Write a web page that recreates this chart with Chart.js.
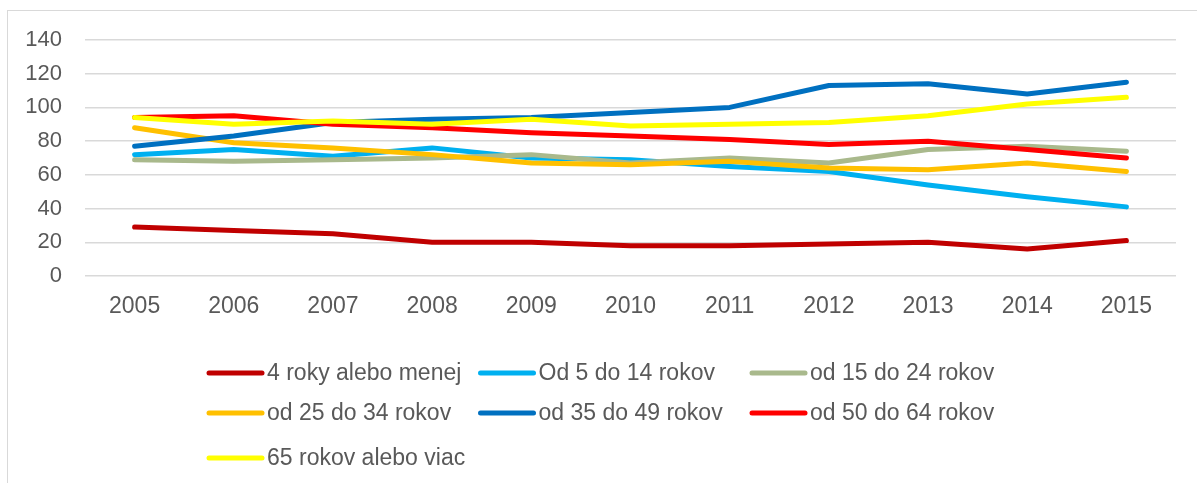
<!DOCTYPE html>
<html>
<head>
<meta charset="utf-8">
<script src="https://cdn.jsdelivr.net/npm/chart.js@4.4.1/dist/chart.umd.min.js"></script>
<style>
  html, body { margin: 0; padding: 0; background: #fff; overflow: hidden; }
  #wrap { position: relative; width: 1197px; height: 483px; overflow: hidden; }
  #frame { position: absolute; left: 7px; top: 10px; width: 1400px; height: 700px; border: 1px solid #d9d9d9; box-sizing: border-box; }
  canvas { position: absolute; left: 0; top: 0; }
</style>
</head>
<body>
<div id="wrap">
  <div id="frame"></div>
  <canvas id="c" width="1197" height="483"></canvas>
</div>
<script>
const years = ['2005','2006','2007','2008','2009','2010','2011','2012','2013','2014','2015'];
const seriesNames = ['4 roky alebo menej','Od 5 do 14 rokov','od 15 do 24 rokov','od 25 do 34 rokov','od 35 do 49 rokov','od 50 do 64 rokov','65 rokov alebo viac'];
const age0_4   = [29, 27, 25, 20, 20, 18, 18, 19, 20, 16, 21];
const age5_14  = [72, 75, 71, 76, 70, 69, 65, 62, 54, 47, 41];
const age15_24 = [69, 68, 69, 70, 72, 67, 70, 67, 75, 77, 74];
const age25_34 = [88, 79, 76, 72, 67, 66, 68, 64, 63, 67, 62];
const age35_49 = [77, 83, 91, 93, 94, 97, 100, 113, 114, 108, 115];
const age50_64 = [94, 95, 90, 88, 85, 83, 81, 78, 80, 75, 70];
const age65up  = [94, 90, 92, 90, 93, 89, 90, 91, 95, 102, 106];
const yTicks = [0, 20, 40, 60, 80, 100, 120, 140];

const values = [age0_4, age5_14, age15_24, age25_34, age35_49, age50_64, age65up];
const colors = ['#C00000','#00B0F0','#A9B98C','#FFC000','#0070C0','#FF0000','#FFFF00'];
const FONT = '"Liberation Sans", Arial, sans-serif';
const TEXT = '#595959';

const gridLegend = {
  id: 'gridLegend',
  afterDraw(chart, args, opts) {
    const ctx = chart.ctx;
    ctx.save();
    ctx.font = opts.fontSize + 'px ' + FONT;
    ctx.textBaseline = 'middle';
    ctx.textAlign = 'left';
    chart.data.datasets.forEach((ds, i) => {
      const col = i % opts.cols, row = Math.floor(i / opts.cols);
      const x = opts.x0 + col * opts.colW;
      const y = opts.rows[row];
      ctx.strokeStyle = ds.borderColor;
      ctx.lineWidth = ds.borderWidth;
      ctx.lineCap = 'round';
      ctx.beginPath();
      ctx.moveTo(x + 2, y);
      ctx.lineTo(x + opts.sampleW - 2, y);
      ctx.stroke();
      ctx.fillStyle = TEXT;
      ctx.fillText(ds.label, x + opts.sampleW + 3, y + 1);
    });
    ctx.restore();
  }
};

new Chart(document.getElementById('c'), {
  type: 'line',
  data: {
    labels: years,
    datasets: values.map((v, i) => ({
      label: seriesNames[i],
      data: v,
      borderColor: colors[i],
      backgroundColor: colors[i],
      borderWidth: 5,
      borderCapStyle: 'round',
      borderJoinStyle: 'round',
      pointRadius: 0,
      tension: 0,
      fill: false,
      order: values.length - i
    }))
  },
  options: {
    responsive: false,
    animation: false,
    events: [],
    layout: { padding: { left: 0, right: 21, top: 40, bottom: 0 } },
    plugins: {
      legend: { display: false },
      tooltip: { enabled: false },
      gridLegend: { x0: 207, colW: 271.5, cols: 3, rows: [373, 413, 458], sampleW: 57, fontSize: 23 }
    },
    scales: {
      x: {
        type: 'category',
        offset: true,
        grid: { display: false, drawTicks: false },
        border: { display: false },
        ticks: { color: TEXT, font: { family: FONT, size: 23 }, padding: 17, maxRotation: 0, autoSkip: false },
        afterFit(s) { s.height = 207; }
      },
      y: {
        min: 0, max: 140,
        afterBuildTicks(s) { s.ticks = yTicks.map(v => ({ value: v })); },
        grid: { color: '#d9d9d9', lineWidth: 1.5, drawTicks: false },
        border: { display: false },
        ticks: { color: TEXT, font: { family: FONT, size: 22 }, padding: 23 },
        afterFit(s) { s.width = 85; }
      }
    }
  },
  plugins: [gridLegend]
});
</script>
</body>
</html>
